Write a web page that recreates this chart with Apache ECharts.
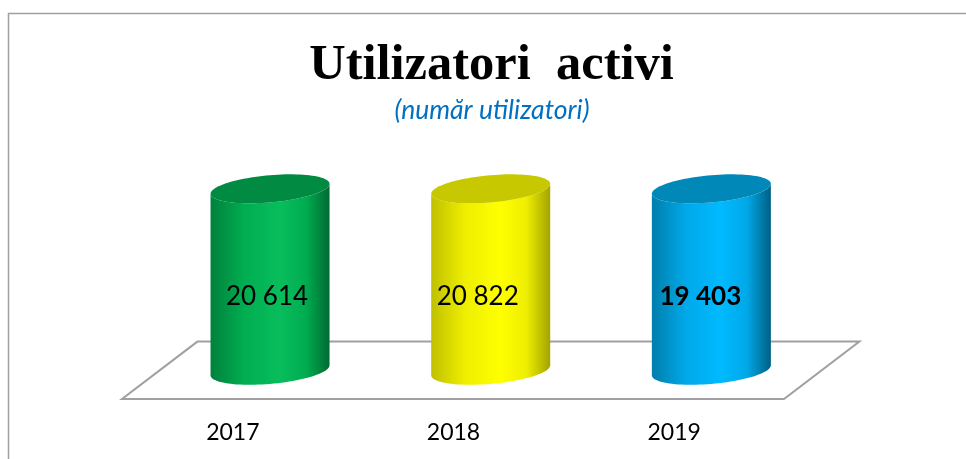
<!DOCTYPE html>
<html>
<head>
<meta charset="utf-8">
<style>html,body{margin:0;padding:0;background:#fff}#c{width:966px;height:459px}</style>
<script src="https://cdn.jsdelivr.net/npm/echarts@6/dist/echarts.min.js"></script>
</head>
<body>
<div id="c"></div>
<script>
const categories = ['2017', '2018', '2019'];
const activeUsers = [20614, 20822, 19403];
// The reference draws all three cylinders at the same height, whatever the value.
const drawnHeights = [1, 1, 1];
const boldLabel = [false, false, true];

const palettes = [
  { edgeL: '#00813c', base: '#00ad50', mid: '#08bd5c', edgeR: '#006a34', cap: '#008a42' },
  { edgeL: '#c0c000', base: '#eeee00', mid: '#ffff00', edgeR: '#a3a300', cap: '#c8c800' },
  { edgeL: '#007eac', base: '#00a8e8', mid: '#00baff', edgeR: '#005f83', cap: '#0088b8' }
];
const labelShiftX = [-3, -13, -11];

const DEPTH_X = 75.4, DEPTH_Y = 57.4;
const R_X = 59.5, TILT = 5, R_Y = 13.6;

const fmt = v => String(v).replace(/\B(?=(\d{3})+$)/g, ' ');

function arc(cx, cy, from, to, n) {
  const pts = [];
  for (let i = 0; i <= n; i++) {
    const t = from + (to - from) * i / n;
    pts.push([cx + R_X * Math.cos(t), cy - TILT * Math.cos(t) + R_Y * Math.sin(t)]);
  }
  return pts;
}

function renderFloor(params, api) {
  const a = api.coord([0, 0]);
  const band = api.size([1, 0])[0];
  const x0 = a[0] - band / 2, x1 = x0 + band * categories.length, y = a[1];
  return {
    type: 'polygon',
    shape: { points: [[x0, y], [x1, y], [x1 + DEPTH_X, y - DEPTH_Y], [x0 + DEPTH_X, y - DEPTH_Y]] },
    style: { fill: '#fff', stroke: '#a0a0a0', lineWidth: 2 }
  };
}

function renderCylinder(params, api) {
  const i = api.value(0);
  const base = api.coord([i, 0]);
  const top = api.coord([i, api.value(1)]);
  const cx = base[0] + DEPTH_X / 2;
  const by = base[1] - DEPTH_Y / 2;
  const ty = top[1] - DEPTH_Y / 2;
  const p = palettes[i];
  const body = arc(cx, by, Math.PI, 0, 48).concat(arc(cx, ty, 0, Math.PI, 48));
  return {
    type: 'group',
    children: [
      {
        type: 'polygon',
        shape: { points: body },
        style: {
          fill: {
            type: 'linear', x: 0, y: 0, x2: 1, y2: 0,
            colorStops: [
              { offset: 0, color: p.edgeL },
              { offset: 0.28, color: p.base },
              { offset: 0.58, color: p.mid },
              { offset: 0.8, color: p.base },
              { offset: 1, color: p.edgeR }
            ]
          }
        }
      },
      {
        type: 'polygon',
        shape: { points: arc(cx, ty, 0, Math.PI * 2, 96) },
        style: { fill: p.cap }
      },
      {
        type: 'text',
        x: cx + labelShiftX[i],
        y: (ty + by) / 2 + 17,
        style: {
          text: fmt(activeUsers[i]),
          fill: '#000',
          font: (boldLabel[i] ? 'bold' : 'normal') + ' 26px Lato',
          align: 'center',
          verticalAlign: 'middle'
        }
      }
    ]
  };
}

const chart = echarts.init(document.getElementById('c'));
chart.setOption({
  animation: false,
  backgroundColor: '#fff',
  title: [
    {
      text: 'Utilizatori  activi', left: 486.5, top: 35, textAlign: 'center',
      textStyle: { fontFamily: 'Liberation Serif', fontWeight: 'bold', fontSize: 50.5, color: '#000' }
    },
    {
      text: '(număr utilizatori)', left: 487, top: 92, textAlign: 'center',
      textStyle: { fontFamily: 'Lato', fontStyle: 'italic', fontWeight: 'normal', fontSize: 26.5, color: '#0070c0' }
    }
  ],
  graphic: [{
    type: 'polyline',
    shape: { points: [[8.5, 459], [8.5, 13.5], [966, 13.5]] },
    style: { stroke: '#a0a0a0', lineWidth: 1.5, fill: 'none' },
    silent: true
  }],
  grid: { left: 122, right: 182, top: 217.5, bottom: 60, containLabel: false },
  xAxis: {
    type: 'category',
    data: categories,
    axisLine: { show: false },
    axisTick: { show: false },
    axisLabel: { color: '#000', fontFamily: 'Lato', fontSize: 23, margin: 22, padding: [0, 0, 0, 1] }
  },
  yAxis: { type: 'value', min: 0, max: 1, show: false },
  series: [
    { type: 'custom', z: 1, silent: true, data: [[0]], renderItem: renderFloor, encode: { x: 0 }, clip: false },
    {
      type: 'custom', z: 2, silent: true,
      data: categories.map((c, i) => [i, drawnHeights[i]]),
      renderItem: renderCylinder,
      encode: { x: 0, y: 1 },
      clip: false
    }
  ]
});
</script>
</body>
</html>
